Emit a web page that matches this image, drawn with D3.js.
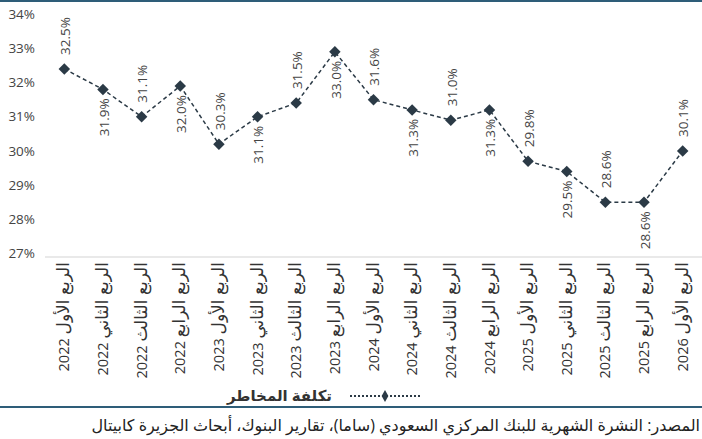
<!DOCTYPE html>
<html>
<head>
<meta charset="utf-8">
<script src="https://cdn.jsdelivr.net/npm/d3@7"></script>
<style>
  html, body { margin: 0; padding: 0; background: #fff; }
  svg { display: block; font-family: "Open Sans", "DejaVu Sans", sans-serif; }
</style>
</head>
<body>
<svg id="chart" width="702" height="439"></svg>
<script>
// Quarters (x categories): quarter name + year
const quarterNames = [
  "الربع الأول", "الربع الثاني", "الربع الثالث", "الربع الرابع",
  "الربع الأول", "الربع الثاني", "الربع الثالث", "الربع الرابع",
  "الربع الأول", "الربع الثاني", "الربع الثالث", "الربع الرابع",
  "الربع الأول", "الربع الثاني", "الربع الثالث", "الربع الرابع",
  "الربع الأول"
];
const years = ["2022", "2022", "2022", "2022", "2023", "2023", "2023", "2023",
  "2024", "2024", "2024", "2024", "2025", "2025", "2025", "2025", "2026"];
const quarters = quarterNames.map((q, i) => q + " " + years[i]);
// Cost of risk (%)
const costOfRisk = [32.5, 31.9, 31.1, 32.0, 30.3, 31.1, 31.5, 33.0, 31.6, 31.3, 31.0, 31.3, 29.8, 29.5, 28.6, 28.6, 30.1];
// Label above (1) or below (0) the marker
const labelAbove = [1, 0, 1, 0, 1, 0, 1, 0, 1, 0, 1, 0, 1, 0, 1, 0, 1];
const yTicks = [27, 28, 29, 30, 31, 32, 33, 34];
const seriesName = "تكلفة المخاطر";
const sourceText = "المصدر: النشرة الشهرية للبنك المركزي السعودي (ساما)، تقارير البنوك، أبحاث الجزيرة كابيتال";

const svg = d3.select("#chart");
const ink = "#2b3a46";
const rule = "#2e5d78";

const x = d3.scaleBand().domain(quarters).range([45, 702]);
const y = d3.scaleLinear().domain([27, 34]).range([257, 17.6]);
const cx = d => x(d) + x.bandwidth() / 2;

// top rule
svg.append("line").attr("x1", 0).attr("x2", 702).attr("y1", 1).attr("y2", 1)
  .attr("stroke", rule).attr("stroke-width", 2);

// y axis labels
svg.append("g").selectAll("text").data(yTicks).join("text")
  .attr("x", 35).attr("y", d => y(d) - 3.5).attr("dy", "0.35em")
  .attr("text-anchor", "end").attr("font-size", 13.5).attr("fill", "#444")
  .text(d => d + "%");

// x axis baseline
svg.append("line").attr("x1", 45).attr("x2", 702).attr("y1", y(27)).attr("y2", y(27))
  .attr("stroke", "#e2e2e2").attr("stroke-width", 1.5);

// x axis labels (rotated): quarter name then year
const xl = svg.append("g").selectAll("text").data(quarters).join("text")
  .attr("transform", d => `translate(${cx(d)},262) rotate(-90)`)
  .attr("dy", "0.35em").attr("text-anchor", "end")
  .attr("font-size", 14.5).attr("fill", "#333");
xl.append("tspan").attr("font-size", 17).text((d, i) => quarterNames[i]);
xl.append("tspan").text((d, i) => " " + years[i]);

// dashed series line
const line = d3.line().x((d, i) => cx(quarters[i])).y(d => y(d));
svg.append("path").datum(costOfRisk).attr("d", line)
  .attr("fill", "none").attr("stroke", ink).attr("stroke-width", 1.5)
  .attr("stroke-dasharray", "4,3");

// diamond markers
const diamond = d3.symbol().type(d3.symbolSquare).size(66);
svg.append("g").selectAll("path").data(costOfRisk).join("path")
  .attr("transform", (d, i) => `translate(${cx(quarters[i])},${y(d)}) rotate(45)`)
  .attr("d", diamond).attr("fill", ink);

// value labels (rotated)
svg.append("g").selectAll("text").data(costOfRisk).join("text")
  .attr("transform", (d, i) => {
    const ty = labelAbove[i] ? y(d) - 14 : y(d) + 9;
    return `translate(${cx(quarters[i]) + 1},${ty}) rotate(-90)`;
  })
  .attr("dy", "0.35em")
  .attr("text-anchor", (d, i) => labelAbove[i] ? "start" : "end")
  .attr("font-size", 13.5).attr("fill", "#444")
  .text(d => d.toFixed(1) + "%");

// legend
const lg = svg.append("g");
lg.append("line").attr("x1", 350).attr("x2", 420).attr("y1", 396).attr("y2", 396)
  .attr("stroke", ink).attr("stroke-width", 2).attr("stroke-dasharray", "2,2");
lg.append("path").attr("transform", "translate(385,396)")
  .attr("d", d3.symbol().type(d3.symbolDiamond).size(40)).attr("fill", ink);
lg.append("text").attr("x", 332).attr("y", 396).attr("dy", "0.35em")
  .attr("text-anchor", "end").attr("font-size", 15).attr("font-weight", "bold")
  .attr("fill", "#333").text(seriesName);

// bottom rule and source
svg.append("line").attr("x1", 0).attr("x2", 702).attr("y1", 407).attr("y2", 407)
  .attr("stroke", rule).attr("stroke-width", 2);
svg.append("text").attr("x", 700).attr("y", 425).attr("dy", "0.35em")
  .attr("direction", "rtl").attr("text-anchor", "start")
  .attr("font-size", 16).attr("fill", "#222").text(sourceText);
</script>
</body>
</html>
